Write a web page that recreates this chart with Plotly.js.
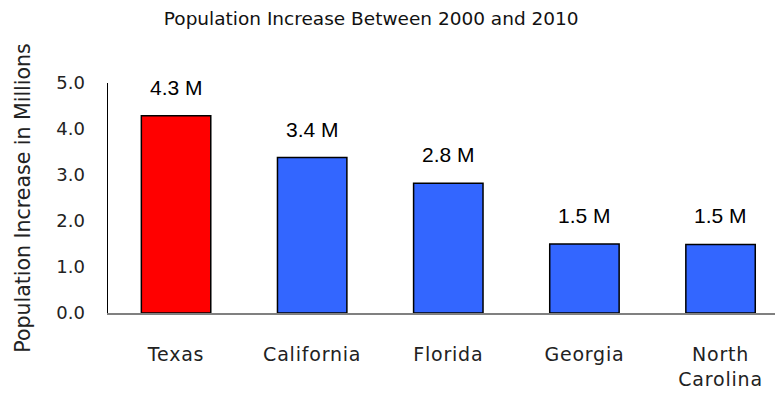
<!DOCTYPE html>
<html>
<head>
<meta charset="utf-8">
<script src="https://cdn.plot.ly/plotly-3.0.1.min.js"></script>
<style>html,body{margin:0;padding:0;background:#fff;overflow:hidden;}#chart{width:775px;height:400px;}
.xtick text{letter-spacing:0.8px;}</style>
</head>
<body>
<div id="chart"></div>
<script>
// Data (millions)
var states = ["Texas", "California", "Florida", "Georgia", "North Carolina"];
var tickLabels = ["Texas", "California", "Florida", "Georgia", "North<br>Carolina"];
var increase = [4.29, 3.38, 2.82, 1.50, 1.49];
var barColors = ["#FF0000", "#3366FF", "#3366FF", "#3366FF", "#3366FF"];
var yTicks = [0, 1, 2, 3, 4, 5];

var gothic = "DejaVu Sans, sans-serif";

var trace = {
  type: "bar",
  x: states,
  y: increase,
  marker: { color: barColors, line: { color: "#000000", width: 1.5 } },
  hoverinfo: "none"
};

var annotations = states.map(function (s, i) {
  return {
    x: s, y: increase[i], xref: "x", yref: "y",
    text: increase[i].toFixed(1) + " M",
    showarrow: false, yanchor: "bottom", yshift: 15,
    font: { family: "Liberation Sans, Arial, sans-serif", size: 21, color: "#000000" }
  };
});

var layout = {
  width: 775, height: 400,
  margin: { l: 108, r: 0, t: 83, b: 87, pad: 0 },
  paper_bgcolor: "#ffffff", plot_bgcolor: "#ffffff",
  showlegend: false,
  bargap: 0.49,
  title: {
    text: "Population Increase Between 2000 and 2010",
    font: { family: gothic, size: 18.5, color: "#111111" },
    xref: "container", x: 0.479, xanchor: "center",
    yref: "container", y: 1 - 19 / 400, yanchor: "middle"
  },
  xaxis: {
    type: "category",
    range: [-0.5, 4.4],
    tickvals: states, ticktext: tickLabels,
    showgrid: false, zeroline: false,
    showline: true, linecolor: "#808080", linewidth: 1.5,
    ticks: "", ticklabelstandoff: 24,
    tickfont: { family: gothic, size: 19, color: "#222222" }
  },
  yaxis: {
    range: [0, 5],
    tickvals: yTicks,
    ticktext: yTicks.map(function (v) { return v.toFixed(1); }),
    showgrid: false, zeroline: false,
    showline: true, linecolor: "#000000", linewidth: 1.5,
    ticks: "", ticklabelstandoff: 18,
    tickfont: { family: gothic, size: 18, color: "#222222" },
    title: {
      text: "Population Increase in Millions",
      font: { family: gothic, size: 20.5, color: "#222222" },
      standoff: 20
    }
  },
  annotations: annotations
};

Plotly.newPlot("chart", [trace], layout, { displayModeBar: false, staticPlot: true });
</script>
</body>
</html>
